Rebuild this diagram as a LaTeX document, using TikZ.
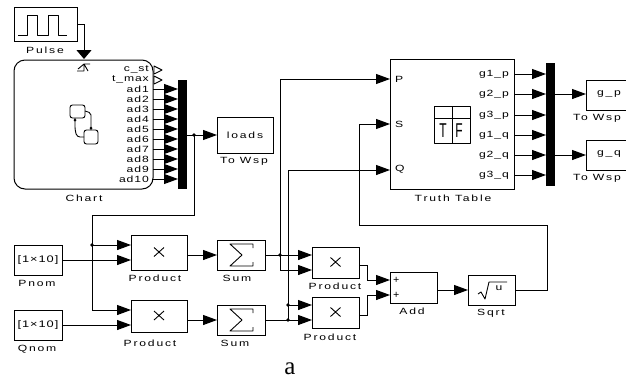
\documentclass[tikz,border=0pt]{standalone}
\usepackage{fontspec}
\usetikzlibrary{arrows.meta,calc}
\newfontfamily\simfont[FakeStretch=1.35,LetterSpace=20]{Liberation Sans}
\newfontfamily\boxfont[FakeStretch=1.35,LetterSpace=10]{Liberation Sans}
\newfontfamily\tfont[FakeStretch=0.6]{Liberation Sans}
\setmainfont{Liberation Serif}
\tikzset{
  x=1pt,y=-1pt,
  wire/.style={line width=1pt,draw=black},
  sig/.style={wire,-{Triangle[length=14pt,width=10pt]}},
  blk/.style={draw=black,line width=1pt,anchor=north west,inner sep=0pt,outer sep=0pt,font=\simfont\fontsize{9}{9}\selectfont},
  lbl/.style={inner sep=0pt,font=\simfont\fontsize{9}{9}\selectfont},
  prt/.style={inner sep=0pt,anchor=east,font=\boxfont\fontsize{9}{9}\selectfont},
  barblk/.style={fill=black,anchor=north west,inner sep=0pt,outer sep=0pt},
  jn/.style={circle,fill=black,inner sep=0pt,minimum size=3.8pt},
  icon/.style={line width=0.9pt,draw=black,line join=round}
}
\begin{document}
\begin{tikzpicture}
\useasboundingbox (0,0) rectangle (626,381);
\begin{scope}
\clip (0,0) rectangle (626,381);
% ---------- blocks
\node[blk,minimum width=63pt,minimum height=34pt] (pulse) at (14,7) {};
\node[blk,minimum width=139pt,minimum height=129pt,rounded corners=11pt] (chart) at (14,60) {};
\node[barblk,minimum width=9pt,minimum height=109pt] (mux1) at (178,80) {};
\node[blk,minimum width=56pt,minimum height=36pt] (loads) at (217,117) {loads};
\node[blk,minimum width=124pt,minimum height=130pt] (tt) at (390,59) {};
\node[barblk,minimum width=9pt,minimum height=123pt] (mux2) at (546,63) {};
\node[blk,minimum width=60pt,minimum height=30pt] (gp) at (586,80) {};
\node[blk,minimum width=60pt,minimum height=30pt] (gq) at (586,140) {};
\node[blk,minimum width=48pt,minimum height=30pt,font=\boxfont\fontsize{9.5}{9.5}\selectfont] (pnom) at (14,245) {[1×10]};
\node[blk,minimum width=48pt,minimum height=30pt,font=\boxfont\fontsize{9.5}{9.5}\selectfont] (qnom) at (14,310) {[1×10]};
\node[blk,minimum width=56pt,minimum height=35pt] (prod1) at (131,235) {};
\node[blk,minimum width=56pt,minimum height=32pt] (prod2) at (131,300) {};
\node[blk,minimum width=48pt,minimum height=30pt] (sum1) at (217,240) {};
\node[blk,minimum width=48pt,minimum height=30pt] (sum2) at (217,305) {};
\node[blk,minimum width=47pt,minimum height=31pt] (prod3) at (312,247) {};
\node[blk,minimum width=47pt,minimum height=31pt] (prod4) at (312,297) {};
\node[blk,minimum width=47pt,minimum height=31pt] (add) at (390,272) {};
\node[blk,minimum width=47pt,minimum height=30pt] (sqrtb) at (468,275) {};
% ---------- captions
\node[lbl] (lpulse) at (45,50) {Pulse};
\node[lbl] (lchart) at (84,198) {Chart};
\node[lbl] (lloads) at (244,161) {To Wsp};
\node[lbl] (ltt) at (453,198) {Truth Table};
\node[lbl] (lgp) at (597,118) {To Wsp};
\node[lbl] (lgq) at (597,178) {To Wsp};
\node[lbl] (lpnom) at (37,283) {Pnom};
\node[lbl] (lqnom) at (37,349) {Qnom};
\node[lbl] (lp1) at (155,278) {Product};
\node[lbl] (lp2) at (150,343) {Product};
\node[lbl] (ls1) at (237,278) {Sum};
\node[lbl] (ls2) at (235,343) {Sum};
\node[lbl] (lp3) at (335,286) {Product};
\node[lbl] (lp4) at (330,337) {Product};
\node[lbl] (ladd) at (412,311) {Add};
\node[lbl] (lsq) at (491,313) {Sqrt};
\node[font=\fontsize{25}{25}\selectfont,inner sep=0pt] (la) at (290,369) {a};
% ---------- block texts
\node[lbl] (tgp) at (609,94) {g\_p};
\node[lbl] (tgq) at (609,154) {g\_q};
\node[prt,anchor=west] (pp) at (395,79) {P};
\node[prt,anchor=west] (ps) at (395,124) {S};
\node[prt,anchor=west] (pq) at (395,169) {Q};
\node[prt,anchor=west,font=\bfseries\fontsize{11}{11}\selectfont] (apl1) at (393,280) {+};
\node[prt,anchor=west,font=\bfseries\fontsize{11}{11}\selectfont] (apl2) at (393,295) {+};
\foreach \n/\t/\y in {cst/c\_st/69,tmax/t\_max/79,ad1/ad1/89,ad2/ad2/99,ad3/ad3/109,ad4/ad4/119,ad5/ad5/129,ad6/ad6/139,ad7/ad7/149,ad8/ad8/159,ad9/ad9/169,ad10/ad10/179}
  \node[prt] (l\n) at (149,\y) {\t};
\foreach \n/\t/\y in {g1p/g1\_p/74,g2p/g2\_p/94,g3p/g3\_p/115,g1q/g1\_q/135,g2q/g2\_q/155,g3q/g3\_q/175}
  \node[prt] (l\n) at (509,\y) {\t};
% ---------- port coordinates
\foreach \i/\y in {1/89,2/99,3/109,4/119,5/129,6/139,7/149,8/159,9/169,10/179}{
  \coordinate (co\i) at (153,\y);
  \coordinate (mi\i) at (178,\y);
  \draw[sig] (co\i) -- (mi\i);
}
\foreach \i/\y in {1/74,2/94,3/115,4/135,5/155,6/175}{
  \coordinate (to\i) at (514,\y);
  \coordinate (ni\i) at (546,\y);
  \draw[sig] (to\i) -- (ni\i);
}
\coordinate (trig) at (84,59);
\coordinate (mo1) at (187,135);
\coordinate (li) at (217,135);
\coordinate (j1) at (194,135);
\coordinate (c1) at (194,215);
\coordinate (c2) at (92,215);
\coordinate (j2) at (92,245);
\coordinate (c3) at (92,310);
\coordinate (p1a) at (131,245);
\coordinate (p1b) at (131,260);
\coordinate (p2a) at (131,310);
\coordinate (p2b) at (131,325);
\coordinate (pnomo) at (62,260);
\coordinate (qnomo) at (62,325);
\coordinate (p1o) at (187,255);
\coordinate (s1i) at (217,255);
\coordinate (p2o) at (187,320);
\coordinate (s2i) at (217,320);
\coordinate (s1o) at (265,255);
\coordinate (s2o) at (265,320);
\coordinate (j3) at (280,255);
\coordinate (j4) at (288,305);
\coordinate (j5) at (288,320);
\coordinate (p3a) at (312,255);
\coordinate (p3b) at (312,270);
\coordinate (p4a) at (312,305);
\coordinate (p4b) at (312,320);
\coordinate (ttp) at (390,79);
\coordinate (tts) at (390,124);
\coordinate (ttq) at (390,170);
\coordinate (p3o) at (359,265);
\coordinate (p4o) at (359,315);
\coordinate (adda) at (390,280);
\coordinate (addb) at (390,295);
\coordinate (addo) at (437,290);
\coordinate (sqi) at (468,290);
\coordinate (sqo) at (515,290);
\coordinate (fb1) at (547,225);
\coordinate (fb2) at (359,225);
\coordinate (m2a) at (555,94);
\coordinate (m2b) at (555,155);
\coordinate (gpi) at (586,94);
\coordinate (gqi) at (586,155);
% ---------- connectors
\draw[wire,-{Triangle[length=9pt,width=15pt]}] (pulse.east) -| (trig);
\draw[sig] (mo1) -- (li);
\draw[sig] (j1) -- (c1) -- (c2) -- (c3) -- (p2a);
\draw[sig] (j2) -- (p1a);
\draw[sig] (pnomo) -- (p1b);
\draw[sig] (qnomo) -- (p2b);
\draw[sig] (p1o) -- (s1i);
\draw[sig] (p2o) -- (s2i);
\draw[sig] (s1o) -- (p3a);
\draw[sig] (s2o) -- (p4b);
\draw[sig] (j3) |- (ttp);
\draw[sig] (j3) |- (p3b);
\draw[sig] (j5) |- (ttq);
\draw[sig] (j4) -- (p4a);
\draw[sig] (p3o) -- ++(8,0) |- (adda);
\draw[sig] (p4o) -- ++(8,0) |- (addb);
\draw[sig] (addo) -- (sqi);
\draw[wire] (sqo) -| (fb1) -- (fb2);
\draw[sig] (fb2) |- (tts);
\draw[sig] (m2a) -- (gpi);
\draw[sig] (m2b) -- (gqi);
\foreach \j in {j1,j2,j3,j4,j5} \node[jn] at (\j) {};
% ---------- icons
\draw[icon] (18,35) -- (27,35) -- (27,15) -- (37,15) -- (37,35) -- (48,35) -- (48,15) -- (58,15) -- (58,35) -- (67,35);
\draw[icon] (77,71) -- (84,71) -- (84,64) -- (90,64) (78,69) -- (84,64) -- (88,71);
\draw[icon] (154,66) -- (162,70) -- (154,74) -- cycle;
\draw[icon] (154,76) -- (162,80) -- (154,84) -- cycle;
\draw[icon,rounded corners=2.5pt] (70,105) rectangle (85,118);
\draw[icon,rounded corners=2.5pt] (84,130) rectangle (98,144);
\draw[icon,rounded corners=2pt] (85,111) -- (91,113) -- (91,130);
\draw[icon,rounded corners=3pt] (84,137) -- (77,137) -- (75,130) -- (75,118);
\fill (91,128) circle (1.5pt) (75,120) circle (1.5pt);
\draw[icon] (434,106) rectangle (470,143) (434,118) -- (470,118) (452,106) -- (452,143);
\node[inner sep=0pt,font=\tfont\fontsize{20}{20}\selectfont] (tT) at (443,131) {T};
\node[inner sep=0pt,font=\tfont\fontsize{20}{20}\selectfont] (tF) at (459,131) {F};
\foreach \b in {prod1,prod2,prod3,prod4}
  \draw[icon] ($(\b.center)+(-5,-5)$) -- +(10,9) ($(\b.center)+(5,-5)$) -- +(-10,9);
\foreach \b in {sum1,sum2}
  \draw[icon] ($(\b.center)+(12,-7)$) -- +(0,-4) -- +(-23,-4) -- +(-11,7) -- +(-23,18) -- +(0,18) -- +(0,14);
\draw[icon] (478,294) -- (481,292) -- (485,299) -- (489,282) -- (507,282);
\node[inner sep=0pt,font=\boxfont\fontsize{9}{9}\selectfont] (usym) at (499,288) {u};
\end{scope}
\end{tikzpicture}
\end{document}
